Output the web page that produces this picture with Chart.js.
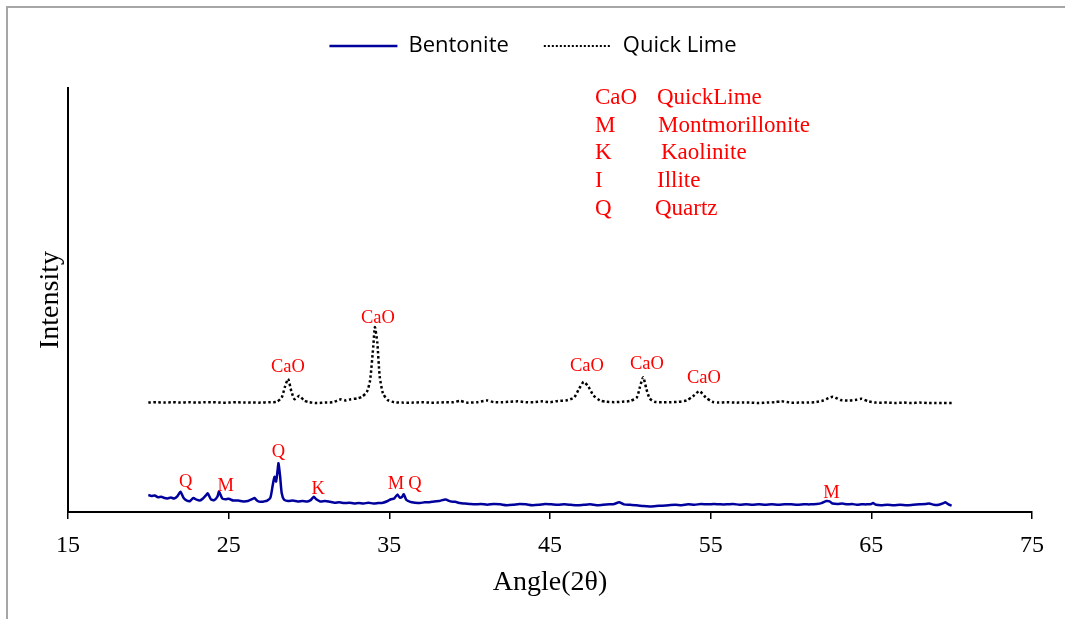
<!DOCTYPE html>
<html>
<head>
<meta charset="utf-8">
<script src="https://cdn.jsdelivr.net/npm/chart.js@4"></script>
<style>
  html, body { margin: 0; padding: 0; background: #fff; overflow: hidden; }
  #wrap { position: relative; width: 1065px; height: 619px; }
  #frame { position: absolute; left: 6px; top: 6px; right: -10px; bottom: -10px;
           border-left: 2px solid #a6a6a6; border-top: 2px solid #a6a6a6; pointer-events: none; }
</style>
</head>
<body>
<div id="wrap">
  <canvas id="xrd" width="1065" height="619"></canvas>
  <div id="frame"></div>
</div>
<script>
// tick labels on the angle axis
const angleTicks = [15, 25, 35, 45, 55, 65, 75];

// Bentonite pattern (angle 2theta, intensity in arbitrary units)
const bentAngle = [20.0,20.2,20.4,20.6,20.8,21.0,21.2,21.4,21.6,21.8,22.0,22.2,22.4,22.6,22.8,23.0,23.2,23.4,23.6,23.7,23.9,24.1,24.3,24.4,24.6,24.8,25.0,25.3,25.6,25.9,26.2,26.5,26.6,26.8,27.0,27.2,27.4,27.6,27.75,27.85,27.95,28.05,28.1,28.2,28.3,28.45,28.7,29.0,29.3,29.6,29.9,30.1,30.3,30.45,30.7,31.0,31.3,31.6,31.9,32.2,32.5,32.8,33.1,33.4,33.7,34.0,34.3,34.6,34.9,35.1,35.3,35.5,35.65,35.8,35.9,36.05,36.3,36.6,36.9,37.2,37.5,37.8,38.1,38.5,38.8,39.1,39.4,39.7,40.0,40.3,40.7,41.1,41.5,41.9,42.3,42.7,43.1,43.5,43.9,44.3,44.7,45.1,45.5,45.9,46.3,46.7,47.1,47.5,47.9,48.3,48.7,49.0,49.3,49.6,50.0,50.4,50.8,51.2,51.6,52.0,52.4,52.8,53.2,53.6,54.0,54.4,54.8,55.2,55.6,56.0,56.4,56.8,57.2,57.6,58.0,58.4,58.8,59.2,59.6,60.0,60.4,60.8,61.2,61.6,61.9,62.2,62.4,62.6,62.9,63.2,63.5,63.8,64.1,64.4,64.7,65.0,65.1,65.3,65.6,66.0,66.4,66.8,67.2,67.6,68.0,68.4,68.6,68.9,69.2,69.5,69.6,69.8,70.0];
const bentIntensity = [4.0,3.8,3.9,3.5,3.6,3.3,3.2,3.4,3.2,3.7,4.8,3.3,2.7,2.6,3.3,2.9,2.7,3.2,4.0,4.4,3.0,2.8,3.6,4.8,3.2,3.0,3.1,2.7,2.7,2.5,2.6,3.1,3.3,2.6,2.4,2.5,2.7,3.4,6.5,8.3,7.2,10.0,11.5,8.5,4.5,2.9,2.6,2.7,2.5,2.6,2.5,2.8,3.6,3.0,2.5,2.6,2.4,2.2,2.3,2.1,2.2,2.0,2.1,2.0,2.2,2.0,2.1,2.2,2.6,3.0,3.2,4.1,3.4,3.6,4.2,2.9,2.4,2.2,2.1,2.3,2.3,2.5,2.6,2.95,2.5,2.4,2.1,2.0,1.9,1.8,1.9,1.7,1.9,1.8,1.6,1.7,1.9,1.8,1.6,1.7,1.9,1.8,1.7,1.8,1.7,1.6,1.7,1.8,1.6,1.7,1.8,1.9,2.3,1.8,1.7,1.6,1.4,1.3,1.4,1.5,1.6,1.7,1.6,1.8,1.7,1.9,1.8,1.9,1.8,1.8,1.9,1.7,1.8,1.7,1.8,1.7,1.8,1.7,1.8,1.8,1.7,1.8,1.8,1.9,2.1,2.6,2.5,2.0,1.9,2.0,1.8,1.9,1.7,1.8,1.8,1.9,2.1,1.7,1.6,1.7,1.6,1.7,1.6,1.7,1.8,1.9,2.0,1.7,1.7,2.1,2.3,1.8,1.5];

// Quick lime pattern
const limeAngle = [20,20.5,21,21.5,22,22.5,23,23.5,24,24.5,25,25.5,26,26.5,27,27.5,28,28.3,28.5,28.7,28.9,29.1,29.4,29.7,30,30.5,31,31.5,32,32.3,32.6,33,33.3,33.6,33.8,34.0,34.1,34.25,34.4,34.6,34.9,35.3,35.8,36.5,37,37.5,38,38.5,39,39.4,39.8,40.5,41.1,41.5,42,42.5,43,43.5,44,44.5,45,45.5,46,46.5,46.8,47.1,47.4,47.7,48.1,48.5,49,49.5,50,50.4,50.6,50.8,51.0,51.2,51.5,52,52.5,53,53.5,53.9,54.3,54.7,55.1,55.5,56,56.5,57,57.5,58,58.5,59,59.4,60,60.5,61,61.5,62,62.6,63.1,63.6,64.1,64.4,64.8,65.3,66,66.5,67,67.5,68,68.5,69,69.5,70];
const limeIntensity = [25.8,25.9,25.8,25.9,25.8,25.9,25.8,25.9,25.9,25.8,25.8,25.9,25.8,25.8,25.8,25.9,26.0,27.0,29.5,31.4,28.5,26.6,27.4,26.3,25.9,25.7,25.8,25.9,26.6,26.3,26.6,26.8,27.2,28.3,31.0,39.0,43.6,40.0,32.0,28.0,26.4,25.9,25.8,25.8,25.9,25.8,25.8,25.9,25.9,26.2,25.8,25.9,26.3,25.9,25.9,26.0,26.1,25.9,25.9,26.1,25.9,26.2,26.3,27.0,29.0,30.7,29.5,27.5,26.3,26.0,25.9,26.0,26.2,27.0,29.5,31.8,29.0,26.8,26.0,25.9,25.9,26.0,26.3,27.3,28.5,27.0,26.0,25.8,25.9,25.8,25.8,25.8,25.7,25.8,25.9,26.1,25.8,25.8,25.8,25.9,26.3,27.2,26.4,26.3,26.5,26.7,26.1,25.8,25.8,25.7,25.8,25.7,25.8,25.7,25.7,25.7,25.7];

// phase tags placed over the peaks (angle, intensity of the tag centre)
const limeTagText = ['CaO', 'CaO', 'CaO', 'CaO', 'CaO'];
const limeTagAngle = [28.69, 34.29, 47.30, 51.03, 54.58];
const limeTagLevel = [34.2, 45.75, 34.4, 34.9, 31.6];
const bentTagText = ['Q', 'M', 'Q', 'K', 'M', 'Q', 'M'];
const bentTagAngle = [22.32, 24.81, 28.09, 30.57, 35.41, 36.59, 62.52];
const bentTagLevel = [7.15, 6.13, 14.2, 5.42, 6.53, 6.53, 4.55];

// phase key
const keyCodes = ['CaO', 'M', 'K', 'I', 'Q'];
const keyNames = ['QuickLime', 'Montmorillonite', 'Kaolinite', 'Illite', 'Quartz'];

const serif = '"Liberation Serif", "Times New Roman", serif';

const tagPlugin = {
  id: 'tags',
  afterDatasetsDraw(chart) {
    const { ctx, scales: { x, y }, chartArea } = chart;
    ctx.save();
    ctx.fillStyle = '#ff0000';
    ctx.textAlign = 'center';
    ctx.textBaseline = 'middle';
    ctx.font = '18.5px ' + serif;
    limeTagText.forEach((t, i) => {
      ctx.fillText(t, x.getPixelForValue(limeTagAngle[i]), y.getPixelForValue(limeTagLevel[i]));
    });
    bentTagText.forEach((t, i) => {
      ctx.fillText(t, x.getPixelForValue(bentTagAngle[i]), y.getPixelForValue(bentTagLevel[i]));
    });

    // key in the upper right
    ctx.font = '23px ' + serif;
    ctx.textAlign = 'left';
    const nameOffsets = [62, 63, 66, 62, 60];
    keyCodes.forEach((c, i) => {
      const yy = chartArea.top + 10 + i * 27.7;
      const xx = chartArea.left + 527;
      ctx.fillText(c, xx, yy);
      ctx.fillText(keyNames[i], xx + nameOffsets[i], yy);
    });
    ctx.restore();
  }
};

new Chart(document.getElementById('xrd'), {
  type: 'line',
  data: {
    datasets: [
      {
        label: 'Bentonite',
        data: bentAngle.map((a, i) => ({ x: a, y: bentIntensity[i] })),
        borderColor: '#00009c',
        borderWidth: 2.5,
        pointRadius: 0,
        tension: 0.2
      },
      {
        label: 'Quick Lime',
        data: limeAngle.map((a, i) => ({ x: a, y: limeIntensity[i] })),
        borderColor: '#000000',
        borderWidth: 2.5,
        borderDash: [2.5, 2.5],
        pointRadius: 0,
        tension: 0.2
      }
    ]
  },
  options: {
    responsive: false,
    animation: false,
    layout: { padding: { left: 34, right: 33, top: 0, bottom: 20 } },
    plugins: {
      legend: {
        position: 'top',
        labels: {
          font: { family: '"Open Sans"', size: 22 },
          color: '#000',
          usePointStyle: true,
          pointStyle: 'line',
          pointStyleWidth: 68,
          padding: 35,
          generateLabels(chart) {
            const items = Chart.defaults.plugins.legend.labels.generateLabels(chart);
            items.forEach(it => {
              const ds = chart.data.datasets[it.datasetIndex];
              it.strokeStyle = ds.borderColor;
              it.lineDash = ds.borderDash ? [2, 2] : [];
              it.lineWidth = ds.borderDash ? 2 : 2.5;
            });
            return items;
          }
        }
      },
      // empty spacer between legend and plot
      subtitle: { display: true, text: '', weight: 500, font: { size: 10, lineHeight: 1 }, padding: { top: 0, bottom: 11 } },
      tooltip: { enabled: false }
    },
    scales: {
      x: {
        type: 'linear',
        min: 15,
        max: 75,
        afterBuildTicks: s => { s.ticks = angleTicks.map(v => ({ value: v })); },
        afterFit: s => { s.height = 87; },
        grid: { drawOnChartArea: false, tickLength: 7, color: '#000', lineWidth: 1.5 },
        border: { color: '#000', width: 2 },
        ticks: { font: { family: serif, size: 24 }, color: '#000', padding: 12, maxRotation: 0 },
        title: { display: true, text: 'Angle(2θ)', font: { family: serif, size: 28 }, color: '#000', padding: 0 }
      },
      y: {
        min: 0,
        max: 100,
        afterFit: s => { s.width = 34; },
        grid: { display: false },
        border: { color: '#000', width: 2 },
        ticks: { display: false },
        title: { display: true, text: 'Intensity', font: { family: serif, size: 28 }, color: '#000', padding: 0 }
      }
    }
  },
  plugins: [tagPlugin]
});
</script>
</body>
</html>
